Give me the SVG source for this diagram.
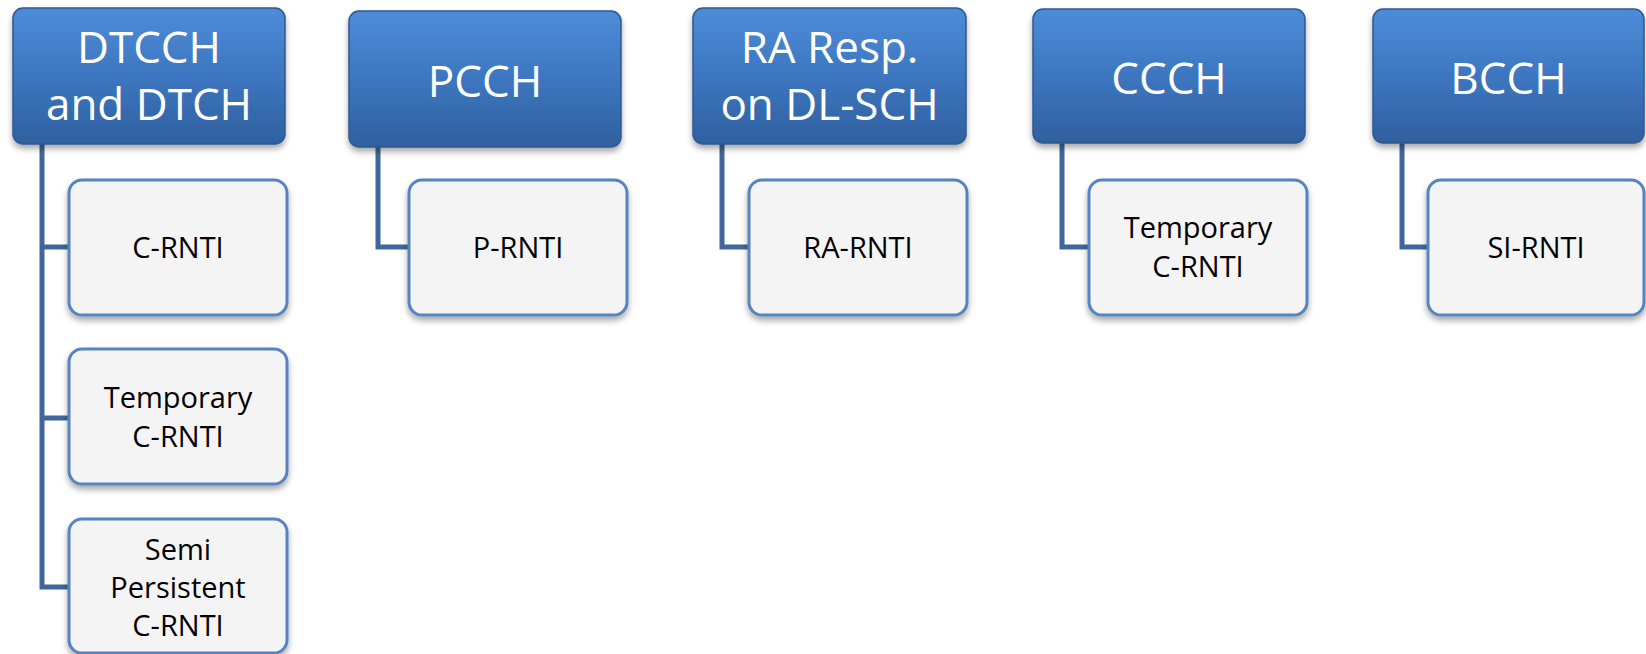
<svg xmlns="http://www.w3.org/2000/svg" width="1646" height="654" viewBox="0 0 1646 654">
  <defs>
    <linearGradient id="hg" x1="0" y1="0" x2="0" y2="1">
      <stop offset="0" stop-color="#4e8cd8"/>
      <stop offset="0.5" stop-color="#3d76c0"/>
      <stop offset="1" stop-color="#2f609f"/>
    </linearGradient>
    <filter id="sh" x="-10%" y="-10%" width="120%" height="130%">
      <feGaussianBlur in="SourceAlpha" stdDeviation="3"/>
      <feOffset dx="0" dy="4" result="b"/>
      <feComponentTransfer><feFuncA type="linear" slope="0.35"/></feComponentTransfer>
      <feMerge><feMergeNode/><feMergeNode in="SourceGraphic"/></feMerge>
    </filter>
  </defs>
  <style>
    .hdr { fill: url(#hg); stroke: #2d5891; stroke-width: 1.5; filter: url(#sh); }
    .chd { fill: #f4f4f4; stroke: #5484c0; stroke-width: 3; filter: url(#sh); }
    .ht { font-family: "Open Sans", sans-serif; font-size: 44px; fill: #ffffff; text-anchor: middle; }
    .ct { font-family: "Open Sans", sans-serif; font-size: 29px; fill: #000000; text-anchor: middle; }
    .con { fill: none; stroke: #40679b; stroke-width: 5; }
  </style>

  <g id="connectors">
    <polyline class="con" points="42,144 42,587 69,587"/>
    <line class="con" x1="42" y1="247" x2="69" y2="247"/>
    <line class="con" x1="42" y1="418" x2="69" y2="418"/>
    <polyline class="con" points="378,147 378,247 409,247"/>
    <polyline class="con" points="722,144 722,247 749,247"/>
    <polyline class="con" points="1062,143 1062,247 1089,247"/>
    <polyline class="con" points="1402,143 1402,247 1428,247"/>
  </g>

  <g id="dtcch">
    <rect class="hdr" x="13" y="8" width="272" height="136" rx="10"/>
    <text class="ht" x="149" y="63">DTCCH</text>
    <text class="ht" x="149" y="120">and DTCH</text>
  </g>
  <g id="c-rnti">
    <rect class="chd" x="69" y="180" width="218" height="135" rx="13"/>
    <text class="ct" x="178" y="258">C-RNTI</text>
  </g>
  <g id="temp-c-rnti-1">
    <rect class="chd" x="69" y="349" width="218" height="135" rx="13"/>
    <text class="ct" x="178" y="408">Temporary</text>
    <text class="ct" x="178" y="447">C-RNTI</text>
  </g>
  <g id="sps-c-rnti">
    <rect class="chd" x="69" y="519" width="218" height="134" rx="13"/>
    <text class="ct" x="178" y="560">Semi</text>
    <text class="ct" x="178" y="598">Persistent</text>
    <text class="ct" x="178" y="636">C-RNTI</text>
  </g>

  <g id="pcch">
    <rect class="hdr" x="349" y="11" width="272" height="136" rx="10"/>
    <text class="ht" x="485" y="97">PCCH</text>
  </g>
  <g id="p-rnti">
    <rect class="chd" x="409" y="180" width="218" height="135" rx="13"/>
    <text class="ct" x="518" y="258">P-RNTI</text>
  </g>

  <g id="ra-resp">
    <rect class="hdr" x="693" y="8" width="273" height="136" rx="10"/>
    <text class="ht" x="829.5" y="63">RA Resp.</text>
    <text class="ht" x="829.5" y="120">on DL-SCH</text>
  </g>
  <g id="ra-rnti">
    <rect class="chd" x="749" y="180" width="218" height="135" rx="13"/>
    <text class="ct" x="858" y="258">RA-RNTI</text>
  </g>

  <g id="ccch">
    <rect class="hdr" x="1033" y="9" width="272" height="134" rx="10"/>
    <text class="ht" x="1169" y="94">CCCH</text>
  </g>
  <g id="temp-c-rnti-2">
    <rect class="chd" x="1089" y="180" width="218" height="135" rx="13"/>
    <text class="ct" x="1198" y="238">Temporary</text>
    <text class="ct" x="1198" y="277">C-RNTI</text>
  </g>

  <g id="bcch">
    <rect class="hdr" x="1373" y="9" width="271" height="134" rx="10"/>
    <text class="ht" x="1508.5" y="94">BCCH</text>
  </g>
  <g id="si-rnti">
    <rect class="chd" x="1428" y="180" width="216" height="135" rx="13"/>
    <text class="ct" x="1536" y="258">SI-RNTI</text>
  </g>
</svg>
